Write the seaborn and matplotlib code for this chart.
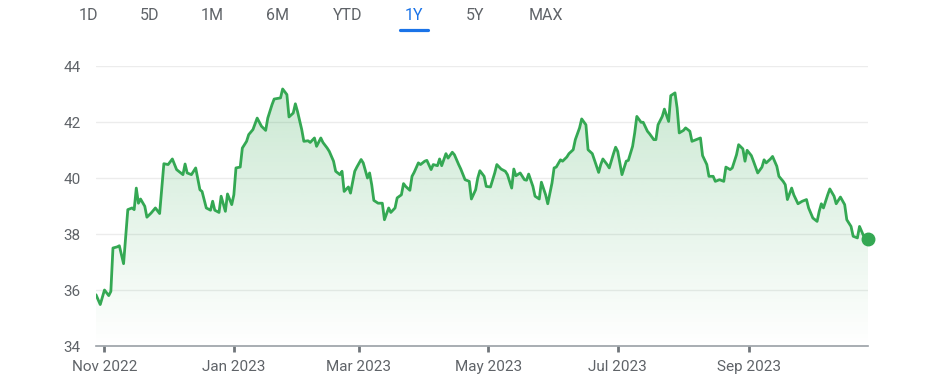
import numpy as np
import pandas as pd
import matplotlib
matplotlib.use("Agg")
import matplotlib.pyplot as plt
import matplotlib.dates as mdates
from matplotlib.colors import to_rgb
from matplotlib.lines import Line2D
import seaborn as sns

# =============================================================================
# DATA
# =============================================================================
DATES = [
    "2022-10-28", "2022-10-30", "2022-11-01", "2022-11-03", "2022-11-04", "2022-11-05",
    "2022-11-07", "2022-11-08", "2022-11-10", "2022-11-12", "2022-11-14", "2022-11-15",
    "2022-11-16", "2022-11-17", "2022-11-18", "2022-11-20", "2022-11-21", "2022-11-23",
    "2022-11-25", "2022-11-27", "2022-11-29",
    "2022-12-01", "2022-12-03", "2022-12-05", "2022-12-06", "2022-12-08", "2022-12-09",
    "2022-12-10", "2022-12-12", "2022-12-14", "2022-12-16", "2022-12-17", "2022-12-19",
    "2022-12-21", "2022-12-22", "2022-12-23", "2022-12-25", "2022-12-26", "2022-12-28",
    "2022-12-29", "2022-12-31",
    "2023-01-01", "2023-01-02", "2023-01-04", "2023-01-05", "2023-01-07", "2023-01-08",
    "2023-01-10", "2023-01-12", "2023-01-14", "2023-01-16", "2023-01-17", "2023-01-19",
    "2023-01-20", "2023-01-23", "2023-01-24", "2023-01-26", "2023-01-27", "2023-01-29",
    "2023-01-30", "2023-01-31",
    "2023-02-02", "2023-02-03", "2023-02-05", "2023-02-06", "2023-02-08", "2023-02-09",
    "2023-02-11", "2023-02-12", "2023-02-14", "2023-02-15", "2023-02-17", "2023-02-18",
    "2023-02-20", "2023-02-21", "2023-02-22", "2023-02-24", "2023-02-25", "2023-02-27",
    "2023-02-28",
    "2023-03-02", "2023-03-03", "2023-03-05", "2023-03-06", "2023-03-07", "2023-03-08",
    "2023-03-10", "2023-03-12", "2023-03-13", "2023-03-15", "2023-03-16", "2023-03-18",
    "2023-03-19", "2023-03-21", "2023-03-22", "2023-03-23", "2023-03-25", "2023-03-26",
    "2023-03-27", "2023-03-29", "2023-03-30",
    "2023-04-01", "2023-04-02", "2023-04-04", "2023-04-05", "2023-04-07", "2023-04-08",
    "2023-04-09", "2023-04-11", "2023-04-12", "2023-04-14", "2023-04-15", "2023-04-17",
    "2023-04-18", "2023-04-20", "2023-04-22", "2023-04-23", "2023-04-25", "2023-04-26",
    "2023-04-27", "2023-04-29", "2023-04-30",
    "2023-05-02", "2023-05-04", "2023-05-05", "2023-05-07", "2023-05-09", "2023-05-10",
    "2023-05-12", "2023-05-13", "2023-05-14", "2023-05-16", "2023-05-18", "2023-05-19",
    "2023-05-20", "2023-05-22", "2023-05-23", "2023-05-25", "2023-05-26", "2023-05-28",
    "2023-05-29", "2023-05-31",
    "2023-06-01", "2023-06-02", "2023-06-04", "2023-06-05", "2023-06-07", "2023-06-08",
    "2023-06-10", "2023-06-11", "2023-06-13", "2023-06-14", "2023-06-16", "2023-06-17",
    "2023-06-19", "2023-06-20", "2023-06-22", "2023-06-23", "2023-06-24", "2023-06-26",
    "2023-06-27", "2023-06-29", "2023-06-30",
    "2023-07-01", "2023-07-03", "2023-07-05", "2023-07-06", "2023-07-08", "2023-07-09",
    "2023-07-10", "2023-07-12", "2023-07-13", "2023-07-15", "2023-07-16", "2023-07-18",
    "2023-07-19", "2023-07-20", "2023-07-22", "2023-07-23", "2023-07-25", "2023-07-26",
    "2023-07-28", "2023-07-29", "2023-07-30",
    "2023-08-01", "2023-08-02", "2023-08-04", "2023-08-05", "2023-08-07", "2023-08-09",
    "2023-08-10", "2023-08-12", "2023-08-13", "2023-08-15", "2023-08-16", "2023-08-18",
    "2023-08-20", "2023-08-21", "2023-08-23", "2023-08-24", "2023-08-26", "2023-08-27",
    "2023-08-29", "2023-08-30", "2023-08-31",
    "2023-09-02", "2023-09-03", "2023-09-05", "2023-09-07", "2023-09-08", "2023-09-09",
    "2023-09-11", "2023-09-12", "2023-09-14", "2023-09-15", "2023-09-17", "2023-09-18",
    "2023-09-19", "2023-09-21", "2023-09-22", "2023-09-24", "2023-09-26", "2023-09-28",
    "2023-09-29",
    "2023-10-01", "2023-10-03", "2023-10-04", "2023-10-05", "2023-10-06", "2023-10-08",
    "2023-10-09", "2023-10-11", "2023-10-12", "2023-10-14", "2023-10-16", "2023-10-17",
    "2023-10-19", "2023-10-20", "2023-10-22", "2023-10-23", "2023-10-25", "2023-10-27",
]
PRICES = [
    35.83, 35.48, 36.00, 35.80, 35.95, 37.50,
    37.54, 37.58, 36.94, 38.87, 38.93, 38.87,
    39.64, 39.10, 39.25, 38.99, 38.60, 38.75,
    38.93, 38.73, 40.51,
    40.48, 40.68, 40.30, 40.24, 40.12, 40.50,
    40.18, 40.12, 40.36, 39.58, 39.52, 38.93,
    38.85, 39.17, 38.85, 38.77, 39.35, 38.81,
    39.43, 39.05,
    39.40, 40.36, 40.39, 41.07, 41.31, 41.55,
    41.73, 42.14, 41.85, 41.70, 42.14, 42.62,
    42.82, 42.86, 43.18, 42.98, 42.18, 42.32,
    42.65, 42.38,
    41.73, 41.31, 41.33, 41.27, 41.43, 41.13,
    41.43, 41.27, 41.07, 40.95, 40.60, 40.24,
    40.12, 40.24, 39.52, 39.68, 39.46, 40.24,
    40.39,
    40.66, 40.54, 40.00, 40.18, 39.76, 39.20,
    39.10, 39.10, 38.51, 38.93, 38.77, 38.93,
    39.29, 39.40, 39.80, 39.70, 39.56, 40.06,
    40.20, 40.54, 40.48,
    40.60, 40.63, 40.30, 40.48, 40.44, 40.68,
    40.44, 40.87, 40.71, 40.92, 40.83, 40.48,
    40.32, 39.94, 39.88, 39.25, 39.58, 40.00,
    40.26, 40.06, 39.70,
    39.68, 40.18, 40.48, 40.32, 40.24, 40.12,
    39.64, 40.32, 40.08, 40.18, 39.94, 39.92,
    40.14, 39.70, 39.35, 39.25, 39.85, 39.40,
    39.08, 39.82,
    40.36, 40.39, 40.65, 40.60, 40.75, 40.87,
    41.01, 41.37, 41.79, 42.11, 41.90, 41.01,
    40.87, 40.65, 40.20, 40.48, 40.68, 40.48,
    40.36, 40.87, 41.10,
    40.95, 40.12, 40.60, 40.63, 41.13, 41.61,
    42.20, 41.99, 41.99, 41.67, 41.58, 41.37,
    41.37, 41.90, 42.20, 42.46, 42.02, 42.94,
    43.04, 42.50, 41.61,
    41.70, 41.79, 41.67, 41.31, 41.37, 41.43,
    40.80, 40.48, 40.06, 40.06, 39.88, 39.94,
    39.88, 40.39, 40.30, 40.36, 40.83, 41.19,
    41.04, 40.60, 40.99,
    40.80, 40.60, 40.18, 40.39, 40.65, 40.54,
    40.68, 40.77, 40.42, 40.06, 39.88, 39.76,
    39.23, 39.64, 39.40, 39.08, 39.17, 39.23,
    38.93,
    38.57, 38.45, 38.81, 39.08, 38.93, 39.40,
    39.61, 39.35, 39.08, 39.32, 39.05, 38.51,
    38.27, 37.92, 37.86, 38.27, 37.92, 37.83,
]

Y_TICKS = [34, 36, 38, 40, 42, 44]
X_TICKS = ["2022-11-01", "2023-01-01", "2023-03-01", "2023-05-01", "2023-07-01", "2023-09-01"]
X_TICK_LABELS = ["Nov 2022", "Jan 2023", "Mar 2023", "May 2023", "Jul 2023", "Sep 2023"]
RANGES = ["1D", "5D", "1M", "6M", "YTD", "1Y", "5Y", "MAX"]
ACTIVE_RANGE = "1Y"

# =============================================================================
# STYLE
# =============================================================================
GREEN = "#34a853"
BLUE = "#1a73e8"
TEXT_GRAY = "#5f6368"
W, H = 930, 384

sns.set_theme(style="white")
plt.rcParams['font.family'] = ['Roboto', 'DejaVu Sans']

df = pd.DataFrame({"date": pd.to_datetime(DATES), "price": PRICES})

fig = plt.figure(figsize=(W / 100, H / 100), dpi=100)
ax = fig.add_axes([96 / W, 38 / H, 772 / W, 280 / H])

# price line
sns.lineplot(data=df, x="date", y="price", ax=ax, color=GREEN,
             linewidth=2.0, zorder=3, solid_joinstyle="round",
             solid_capstyle="round")

# gradient fill under the line
poly = ax.fill_between(df["date"], df["price"], Y_TICKS[0],
                       facecolor="none", edgecolor="none")
x0, x1 = mdates.date2num(df["date"].iloc[[0, -1]])
grad = np.zeros((256, 1, 4))
grad[..., :3] = to_rgb(GREEN)
grad[:, 0, 3] = np.linspace(0.28, 0.0, 256)
im = ax.imshow(grad, extent=[x0, x1, Y_TICKS[0], Y_TICKS[-1]],
               origin="upper", aspect="auto", zorder=1, interpolation="bilinear")
im.set_clip_path(poly.get_paths()[0], transform=ax.transData)

# last point marker
ax.plot(df["date"].iloc[-1], df["price"].iloc[-1], "o", color=GREEN,
        markersize=9, clip_on=False, zorder=4)

# axes
ax.set_xlim(df["date"].iloc[0], df["date"].iloc[-1])
ax.set_ylim(Y_TICKS[0], Y_TICKS[-1])
ax.set_yticks(Y_TICKS)
ax.set_xticks(pd.to_datetime(X_TICKS))
ax.set_xticklabels(X_TICK_LABELS)
ax.set_xlabel("")
ax.set_ylabel("")

ax.grid(axis="y", color="#ececec", linewidth=1)
ax.grid(axis="x", visible=False)
ax.set_axisbelow(True)
for side in ["left", "top", "right"]:
    ax.spines[side].set_visible(False)
ax.spines["bottom"].set_color("#9aa0a6")
ax.spines["bottom"].set_linewidth(1.2)
ax.spines["bottom"].set_zorder(5)

ax.tick_params(axis="x", length=4, width=2, color="#70757a", pad=6,
               labelsize=11, labelcolor=TEXT_GRAY, bottom=True)
ax.tick_params(axis="y", length=0, pad=11, labelsize=11, labelcolor=TEXT_GRAY)

# range selector tabs
TAB_X = [88, 150, 212, 277, 348, 414, 475, 546]
for label, px in zip(RANGES, TAB_X):
    active = label == ACTIVE_RANGE
    fig.text(px / W, 1 - 16 / H, label, ha="center", va="center",
             fontsize=11.5, color=BLUE if active else TEXT_GRAY)
    if active:
        fig.add_artist(Line2D([(px - 14) / W, (px + 14) / W],
                              [1 - 29.5 / H, 1 - 29.5 / H],
                              color=BLUE, linewidth=2.3, solid_capstyle="round"))

fig.savefig("out.png", dpi=100)
